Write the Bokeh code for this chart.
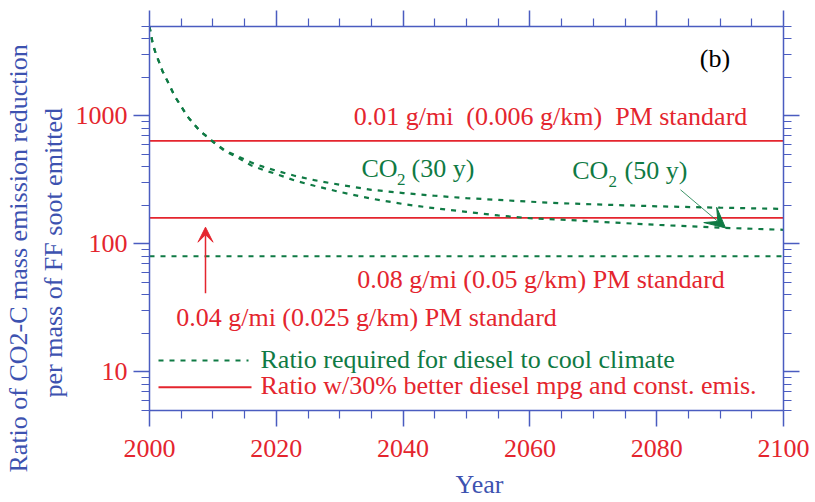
import numpy as np
from bokeh.plotting import figure
from bokeh.models import (Label, Title, Arrow, VeeHead, FixedTicker, LinearAxis, LogAxis,
                          Range1d, NumeralTickFormatter, CustomJSTickFormatter)
from bokeh.embed import file_html
from bokeh.resources import INLINE

# ---------------- data ----------------
years = [2000, 2000.5, 2001, 2001.5, 2002, 2003, 2004, 2005, 2006, 2007, 2008, 2009,
         2010, 2011, 2012, 2014, 2016, 2018, 2020, 2023, 2026, 2030, 2035, 2040,
         2045, 2050, 2055, 2060, 2065, 2070, 2080, 2090, 2100]
ratio_co2_30y = [5000, 3700, 3050, 2650, 2270, 1800, 1420, 1190, 990, 865, 760, 695,
                 632, 580, 535, 482, 434, 400, 373, 340, 315, 290, 265, 250,
                 238, 228, 221, 214, 208, 204, 197, 192, 188]
ratio_co2_50y = [5000, 3700, 3050, 2650, 2270, 1800, 1420, 1190, 990, 865, 760, 693,
                 628, 575, 528, 470, 412, 378, 352, 312, 285, 255, 226, 205,
                 190, 178, 167, 159, 155, 150, 141, 134, 129]
x_span = [2000, 2100]
pm_standard_ratios = [640, 160]      # 0.01 g/mi and 0.04 g/mi standards
diesel_cool_ratio = [80, 80]         # 0.08 g/mi standard

x_major_ticks = [2000, 2020, 2040, 2060, 2080, 2100]
x_minor_ticks = [y for y in range(2000, 2101, 5) if y % 20 != 0]
y_major_ticks = [10, 100, 1000]
y_minor_ticks = [m * d for d in (1, 10, 100, 1000) for m in range(2, 10) if 5 <= m * d <= 5000]

RED = "#e4252e"
GREEN = "#0f7a44"
BLUE_AX = "#4a5cc0"
BLUE_TXT = "#3d52b0"
FONT = "Liberation Serif"
FS = "26px"

# frame geometry (pixels)
FL, FW, FT, FH = 149, 634, 26, 384

p = figure(frame_width=FW, frame_height=FH,
           x_range=Range1d(2000, 2100), y_range=Range1d(5, 5000),
           y_axis_type="log", output_backend="svg", toolbar_location=None,
           min_border_left=FL, min_border_right=29, min_border_top=FT,
           min_border_bottom=92)
p.outline_line_color = None
p.grid.visible = False
p.background_fill_color = "white"
p.border_fill_color = "white"

p.add_layout(LinearAxis(), "above")
p.add_layout(LogAxis(), "right")


def X(px):
    return 2000 + (px - FL) * 100.0 / FW


def Y(py):
    return 10 ** (np.log10(5000) - (py - FT) * 3.0 / FH)


def style_axis(ax, ticks, minor, labels):
    ax.ticker = FixedTicker(ticks=ticks, minor_ticks=minor)
    ax.axis_line_color = BLUE_AX
    ax.axis_line_width = 1.5
    ax.major_tick_line_color = BLUE_AX
    ax.major_tick_line_width = 1.5
    ax.minor_tick_line_color = BLUE_AX
    ax.minor_tick_line_width = 1.2
    ax.major_tick_out = 16
    ax.major_tick_in = 0
    ax.minor_tick_out = 8
    ax.minor_tick_in = 0
    if labels:
        ax.major_label_text_font = FONT
        ax.major_label_text_font_size = "26px"
        ax.major_label_text_color = RED
    else:
        ax.formatter = CustomJSTickFormatter(code="return ''")
        ax.major_label_standoff = 0


for ax in p.below:
    style_axis(ax, x_major_ticks, x_minor_ticks, True)
    ax.major_label_standoff = 13
for ax in p.above:
    style_axis(ax, x_major_ticks, x_minor_ticks, False)
for ax in p.left:
    style_axis(ax, y_major_ticks, y_minor_ticks, True)
    ax.formatter = NumeralTickFormatter(format="0")
    ax.major_label_standoff = 6
for ax in p.right:
    style_axis(ax, y_major_ticks, y_minor_ticks, False)

# ---------------- lines ----------------
for r in pm_standard_ratios:
    p.line(x_span, [r, r], line_color=RED, line_width=1.8)
p.line(x_span, diesel_cool_ratio, line_color=GREEN, line_width=2, line_dash="5 6")
p.line(years, ratio_co2_30y, line_color=GREEN, line_width=2.2, line_dash="5 6")
p.line(years, ratio_co2_50y, line_color=GREEN, line_width=2.2, line_dash="5 6")

# legend samples
p.line([X(158), X(248)], [Y(360), Y(360)], line_color=GREEN, line_width=2, line_dash="5 6")
p.line([X(158), X(251)], [Y(386.7), Y(386.7)], line_color=RED, line_width=2)

SHIFT = 8  # baseline correction in pixels


def lab(px, py, text, color, size=FS, align="left"):
    p.add_layout(Label(x=X(px), y=Y(py - SHIFT), text=text, text_color=color,
                       text_font=FONT, text_font_size=size, text_align=align,
                       text_baseline="alphabetic"))


lab(550, 123.5, "0.01 g/mi\u00a0 (0.006 g/km)\u00a0 PM standard", RED, align="center")
lab(356.7, 287.3, "0.08 g/mi (0.05 g/km) PM standard", RED)
lab(175.7, 325, "0.04 g/mi (0.025 g/km) PM standard", RED)
lab(699.3, 65.5, "(b)", "black")

lab(361, 176, "CO", GREEN)
lab(396.5, 186.5, "2", GREEN, size="17px")
lab(411, 176, "(30 y)", GREEN)
lab(571.7, 178, "CO", GREEN)
lab(608, 189, "2", GREEN, size="17px")
lab(624, 178, "(50 y)", GREEN)

lab(260, 366.7, "Ratio required for diesel to cool climate", GREEN)
lab(260, 393.3, "Ratio w/30% better diesel mpg and const. emis.", RED)


# ---------------- axis titles (side panels) ----------------
def side_title(text, side, offset, standoff):
    t = Title(text=text, align="left", offset=offset,
              text_font=FONT, text_font_size=FS, text_font_style="normal",
              text_color=BLUE_TXT)
    try:
        t.standoff = standoff
    except Exception:
        t.standoff = max(standoff, 0)
    p.add_layout(t, side)


side_title("per mass of FF soot emitted", "left", 13, 10)
side_title("Ratio of CO2-C mass emission reduction", "left", -62, -3)
side_title("Year", "below", 306, 17)

# arrows
p.add_layout(Arrow(end=VeeHead(size=15, fill_color=RED, line_color=RED, line_width=1),
                   x_start=X(205), y_start=Y(292.7), x_end=X(205), y_end=Y(226.7),
                   line_color=RED, line_width=1.5))
tip_year = X(725)
tip_val = float(np.interp(tip_year, years, ratio_co2_50y))
p.add_layout(Arrow(end=VeeHead(size=20, fill_color=GREEN, line_color=GREEN, line_width=1),
                   x_start=X(680), y_start=Y(189.3), x_end=tip_year, y_end=tip_val,
                   line_color=GREEN, line_width=1, line_alpha=0.8))

open("out.html", "w").write(file_html(p, INLINE, "plot"))
